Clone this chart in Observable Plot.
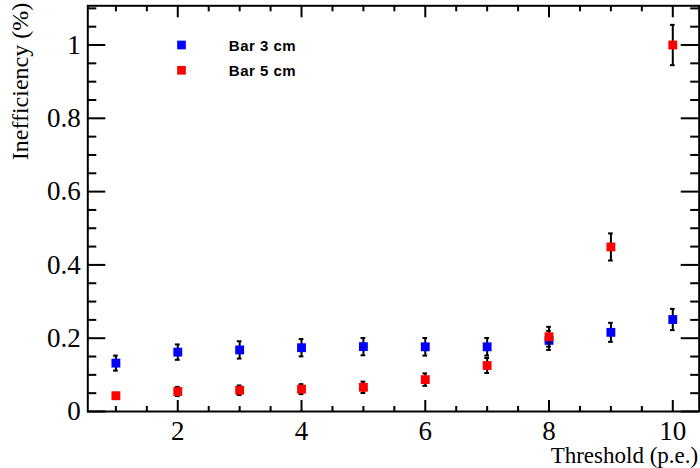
<!DOCTYPE html>
<html><head><meta charset="utf-8">
<script src="https://cdn.jsdelivr.net/npm/d3@7"></script>
<script src="https://cdn.jsdelivr.net/npm/@observablehq/plot@0.6"></script>
<style>html,body{margin:0;padding:0;background:#fff} svg{display:block}</style>
</head><body><div id="chart"></div>
<script>
const thresholds = [1, 2, 3, 4, 5, 6, 7, 8, 9, 10];
const bar3 = [0.132, 0.162, 0.168, 0.174, 0.177, 0.1765, 0.1765, 0.194, 0.216, 0.251];
const bar3Err = [0.0205, 0.021, 0.0236, 0.0236, 0.0236, 0.024, 0.024, 0.026, 0.026, 0.029];
const bar5 = [0.043, 0.0546, 0.058, 0.061, 0.066, 0.087, 0.1255, 0.204, 0.449, 1.0];
const bar5Err = [0.008, 0.0125, 0.013, 0.0135, 0.0155, 0.017, 0.0205, 0.027, 0.037, 0.055];
const seriesNames = ["Bar 3 cm", "Bar 5 cm"];
const seriesColors = ["#0000ff", "#ff0000"];
const xTickLabels = [2, 4, 6, 8, 10];
const xMinorTicks = [1, 1.5, 2.5, 3, 3.5, 4.5, 5, 5.5, 6.5, 7, 7.5, 8.5, 9, 9.5];
const yTickLabels = [0, 0.2, 0.4, 0.6, 0.8, 1];
const yMinorTicks = [0.05, 0.1, 0.15, 0.25, 0.3, 0.35, 0.45, 0.5, 0.55, 0.65, 0.7, 0.75, 0.85, 0.9, 0.95, 1.05, 1.1];
const xTitle = "Threshold (p.e.)";
const yTitle = "Inefficiency (%)";

const W = 700, H = 468;
const mL = 87.3, mR = 1.3, mT = 5.3, mB = 57;
const pw = W - mL - mR, ph = H - mT - mB;

const s3 = thresholds.map((x, i) => ({x, y: bar3[i], e: bar3Err[i]}));
const s5 = thresholds.map((x, i) => ({x, y: bar5[i], e: bar5Err[i]}));
const capHalf = 0.038;

function seriesMarks(data, color) {
  return [
    Plot.ruleX(data, {x: "x", y1: d => d.y - d.e, y2: d => d.y + d.e, stroke: "black", strokeWidth: 2}),
    Plot.ruleY(data, {y: d => d.y + d.e, x1: d => d.x - capHalf, x2: d => d.x + capHalf, stroke: "black", strokeWidth: 2}),
    Plot.ruleY(data, {y: d => d.y - d.e, x1: d => d.x - capHalf, x2: d => d.x + capHalf, stroke: "black", strokeWidth: 2}),
    Plot.dot(data, {x: "x", y: "y", symbol: "square", r: 5, fill: color, stroke: "none"})
  ];
}

const tk = {stroke: "black", strokeWidth: 2};
const legendFont = {fontSize: 15, fontWeight: "bold", fontFamily: "'Liberation Sans', Arial, sans-serif", fill: "black"};
const chart = Plot.plot({
  width: W, height: H,
  marginLeft: mL, marginRight: mR, marginTop: mT, marginBottom: mB,
  style: {fontFamily: "'Liberation Serif', serif", background: "#fff", color: "black"},
  x: {domain: [0.546, 10.427], axis: null},
  y: {domain: [0, 1.107], axis: null},
  marks: [
    // bottom / top ticks
    Plot.ruleX(xTickLabels, {x: d => d, insetTop: ph - 11, ...tk}),
    Plot.ruleX(xMinorTicks, {x: d => d, insetTop: ph - 5, ...tk}),
    Plot.ruleX(xTickLabels, {x: d => d, insetBottom: ph - 12, ...tk}),
    Plot.ruleX(xMinorTicks, {x: d => d, insetBottom: ph - 6, ...tk}),
    // left / right ticks
    Plot.ruleY(yTickLabels, {y: d => d, insetRight: pw - 18, ...tk}),
    Plot.ruleY(yMinorTicks, {y: d => d, insetRight: pw - 9, ...tk}),
    Plot.ruleY(yTickLabels, {y: d => d, insetLeft: pw - 18, ...tk}),
    Plot.ruleY(yMinorTicks, {y: d => d, insetLeft: pw - 8.5, ...tk}),
    Plot.frame({stroke: "black", strokeWidth: 2}),
    // tick labels
    Plot.text(xTickLabels, {x: d => d, text: d => String(d), frameAnchor: "bottom", lineAnchor: "middle", dy: 20, fontSize: 27, fill: "black"}),
    Plot.text(yTickLabels, {y: d => d, text: d => String(d), frameAnchor: "left", lineAnchor: "middle", textAnchor: "end", dx: -7, fontSize: 27, fill: "black"}),
    // titles
    Plot.text([xTitle], {text: d => d, frameAnchor: "bottom-right", textAnchor: "end", lineAnchor: "bottom", dx: -1, dy: 51, fontSize: 23, fill: "black"}),
    Plot.text([yTitle], {text: d => d, frameAnchor: "top-left", rotate: -90, textAnchor: "end", lineAnchor: "bottom", dx: -60.3, dy: -3, fontSize: 24, fill: "black"}),
    // data
    ...seriesMarks(s3, seriesColors[0]),
    ...seriesMarks(s5, seriesColors[1]),
    // legend
    Plot.dot([seriesNames[0]], {frameAnchor: "top-left", dx: 93.7, dy: 39.2, symbol: "square", r: 4.9, fill: seriesColors[0]}),
    Plot.dot([seriesNames[1]], {frameAnchor: "top-left", dx: 93.7, dy: 64.5, symbol: "square", r: 4.9, fill: seriesColors[1]}),
    Plot.text([seriesNames[0]], {text: d => d, frameAnchor: "top-left", lineAnchor: "middle", textAnchor: "start", dx: 141, dy: 40.2, ...legendFont}),
    Plot.text([seriesNames[1]], {text: d => d, frameAnchor: "top-left", lineAnchor: "middle", textAnchor: "start", dx: 141, dy: 65.2, ...legendFont})
  ]
});
d3.select(chart).selectAll("text").filter(function() { return seriesNames.includes(this.textContent); }).style("letter-spacing", "0.5px");
document.getElementById("chart").appendChild(chart);
</script>
</body></html>
